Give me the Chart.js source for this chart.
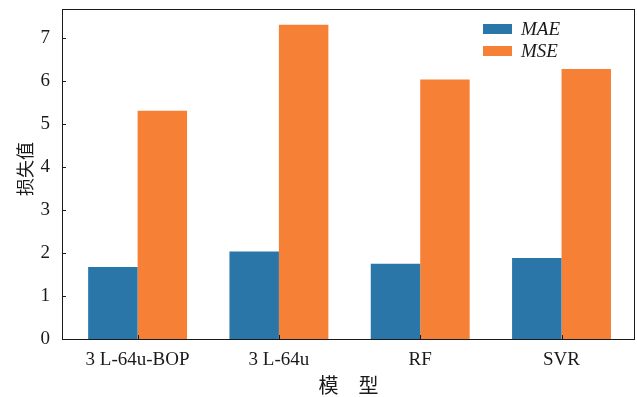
<!DOCTYPE html>
<html>
<head>
<meta charset="utf-8">
<script src="https://cdn.jsdelivr.net/npm/chart.js@4.4.1/dist/chart.umd.min.js"></script>
<style>
html,body{margin:0;padding:0;background:#fff;}
canvas{display:block;}
</style>
</head>
<body>
<canvas id="c" width="637" height="397"></canvas>
<script>
'use strict';
const CATEGORIES=['3 L-64u-BOP','3 L-64u','RF','SVR'];
const MAE=[1.67,2.03,1.75,1.88];
const MSE=[5.30,7.30,6.03,6.27];
const Y_TICKS=[0,1,2,3,4,5,6,7];
const SERIES=['MAE','MSE'];

const BLUE='#2b76a9',ORANGE='#f58036',INK='#1a1a1a';
const SERIF='"Liberation Serif","DejaVu Serif",serif';
const CJK='"Noto Sans CJK SC","Noto Sans CJK JP",sans-serif';

// matplotlib-like frame, inward ticks, inner legend, y title
const decor={
  id:'decor',
  afterDraw(chart){
    const {ctx,chartArea:a,scales}=chart;
    const xs=scales.x,ys=scales.y;
    ctx.save();
    ctx.strokeStyle=INK;ctx.lineWidth=1;
    ctx.strokeRect(Math.round(a.left)+.5,Math.round(a.top)+.5,Math.round(a.right-a.left)-1,Math.round(a.bottom-a.top));
    ctx.beginPath();
    Y_TICKS.forEach(v=>{const y=Math.round(ys.getPixelForValue(v))+.5;ctx.moveTo(a.left,y);ctx.lineTo(a.left+4,y);});
    CATEGORIES.forEach((_,i)=>{const x=Math.round(xs.getPixelForValue(i))+.5;ctx.moveTo(x,a.bottom);ctx.lineTo(x,a.bottom-4);});
    ctx.stroke();
    // legend
    ctx.font='italic 19px '+SERIF;ctx.textBaseline='middle';ctx.textAlign='left';
    chart.data.datasets.forEach((ds,i)=>{
      const y=24+i*22;
      ctx.fillStyle=ds.backgroundColor;ctx.fillRect(483,y,29,10);
      ctx.fillStyle=INK;ctx.fillText(ds.label,521,y+6);
    });
    // y title
    ctx.translate(25,169);ctx.rotate(-Math.PI/2);
    ctx.font='18px '+CJK;ctx.textAlign='center';ctx.fillStyle=INK;
    ctx.fillText('损失值',0,0);
    ctx.restore();
  }
};

new Chart(document.getElementById('c'),{
  type:'bar',
  data:{datasets:[
    {label:SERIES[0],data:MAE.map((v,i)=>({x:i,y:v})),backgroundColor:BLUE,borderWidth:0},
    {label:SERIES[1],data:MSE.map((v,i)=>({x:i,y:v})),backgroundColor:ORANGE,borderWidth:0}
  ]},
  options:{
    responsive:false,devicePixelRatio:1,animation:false,
    categoryPercentage:0.7,barPercentage:1.0,
    layout:{padding:{left:0,right:2,top:9,bottom:0}},
    plugins:{legend:{display:false},tooltip:{enabled:false}},
    scales:{
      x:{type:'linear',offset:false,min:-0.535,max:3.52,
        grid:{display:false,drawTicks:false},border:{display:false},
        afterBuildTicks:s=>{s.ticks=CATEGORIES.map((_,i)=>({value:i}));},
        afterFit:s=>{s.height=58;s.paddingLeft=0;s.paddingRight=0;},
        ticks:{padding:10,color:INK,font:{family:SERIF,size:19},maxRotation:0,autoSkip:false,callback:v=>CATEGORIES[v]},
        title:{display:true,text:'模　型',color:INK,font:{family:CJK,size:20},padding:{top:0,bottom:0}}
      },
      y:{min:0,max:7.665,
        grid:{display:false,drawTicks:false},border:{display:false},
        afterBuildTicks:s=>{s.ticks=Y_TICKS.map(v=>({value:v}));},
        afterFit:s=>{s.width=62;s.paddingTop=0;s.paddingBottom=0;},
        ticks:{padding:12,color:INK,font:{family:SERIF,size:19}}
      }
    }
  },
  plugins:[decor]
});
</script>
</body>
</html>
